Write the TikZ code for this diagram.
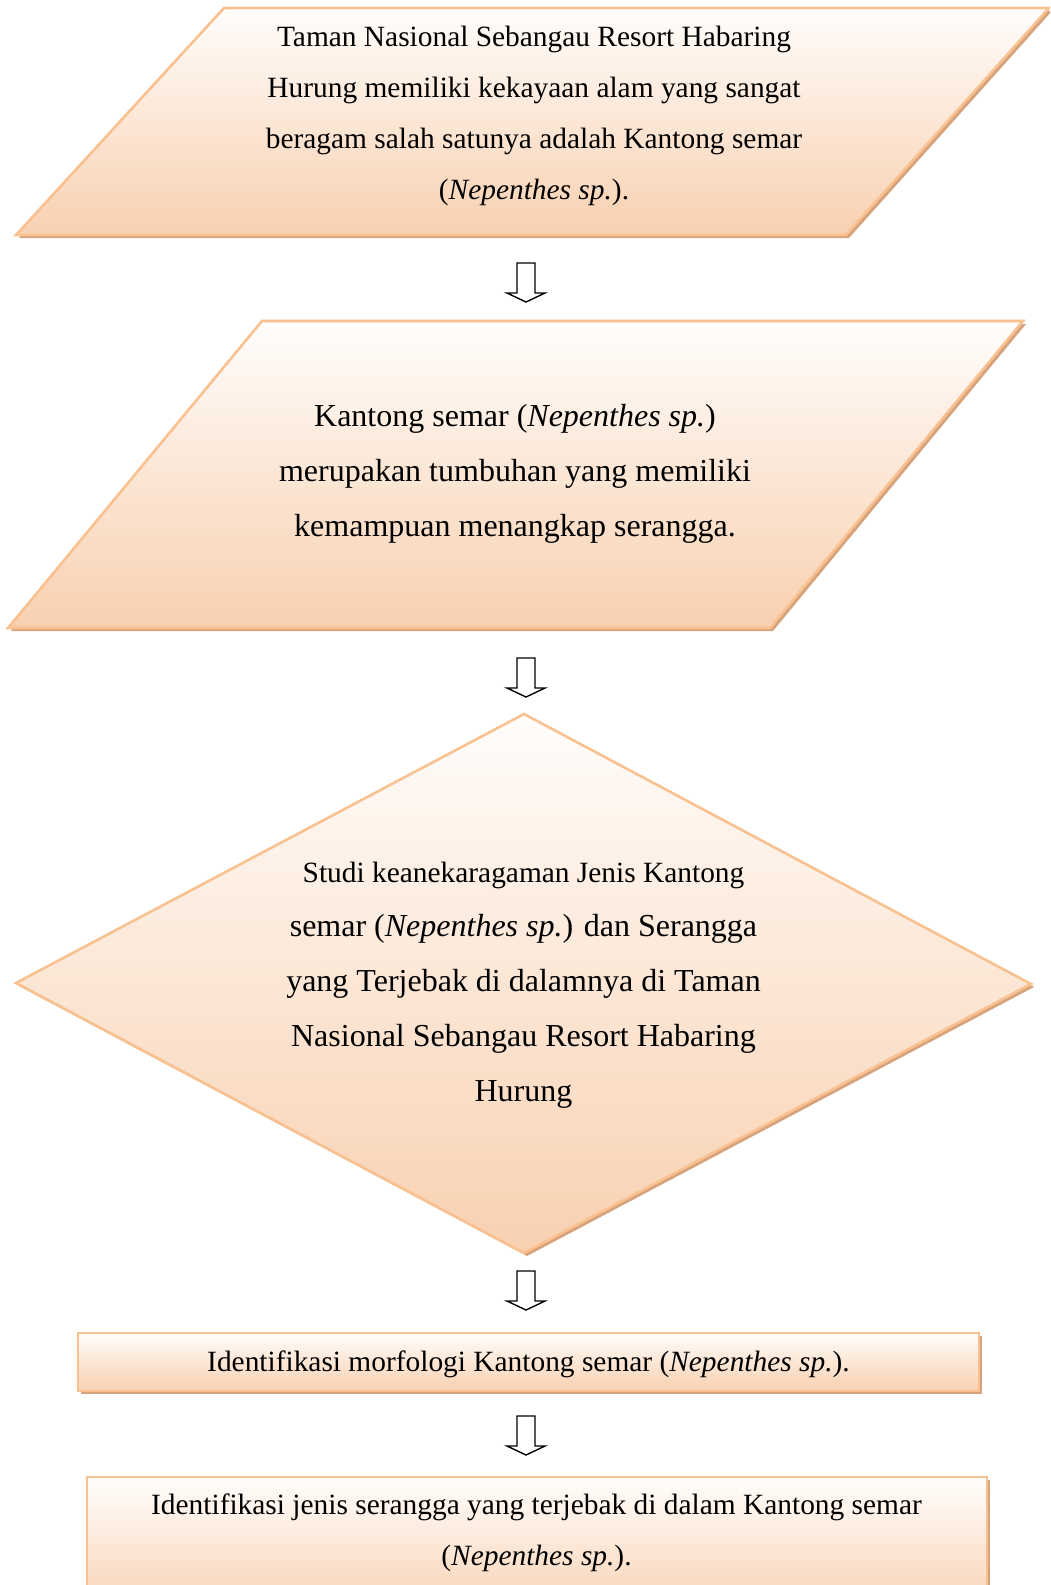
\documentclass[tikz,border=0pt]{standalone}
\usepackage{fontspec}
\setmainfont{Liberation Serif}
\definecolor{boxline}{RGB}{249,192,144}
\definecolor{boxtop}{RGB}{255,253,251}
\definecolor{boxbot}{RGB}{248,208,176}
\definecolor{boxshadow}{RGB}{214,163,124}
\begin{document}
\begin{tikzpicture}[x=0.5pt,y=-0.5pt,
  shapebox/.style={draw=boxline, line width=1.3pt, top color=boxtop, bottom color=boxbot, line join=miter},
  shadowbox/.style={fill=boxshadow, draw=none, shift={(3,3)}},
  smalltext/.style={font=\fontsize{14.7}{25.4}\selectfont, align=center, inner sep=0pt},
  bigtext/.style={font=\fontsize{16}{27.4}\selectfont, align=center, inner sep=0pt},
  blockarrow/.style={draw=black, line width=0.7pt, fill=white, line join=miter}]
\useasboundingbox (0,0) rectangle (1050,1585);
\clip (0,0) rectangle (1050,1585);
% shape 1: parallelogram
\path[shadowbox] (224,8) -- (1049,8) -- (846,235) -- (16,235) -- cycle;
\path[shapebox] (224,8) -- (1049,8) -- (846,235) -- (16,235) -- cycle;
\node[smalltext] (t1) at (534,116) {Taman Nasional Sebangau Resort Habaring\\Hurung memiliki kekayaan alam yang sangat\\beragam salah satunya adalah Kantong semar\\(\textit{Nepenthes sp.}).};
% shape 2: parallelogram
\path[shadowbox] (262,321) -- (1023,321) -- (770,628) -- (8,628) -- cycle;
\path[shapebox] (262,321) -- (1023,321) -- (770,628) -- (8,628) -- cycle;
\node[bigtext] (t2) at (515,474) {Kantong semar (\textit{Nepenthes sp.})\\merupakan tumbuhan yang memiliki\\kemampuan menangkap serangga.};
% shape 3: diamond
\path[shadowbox] (524,714) -- (1031,984) -- (524,1253) -- (16,983) -- cycle;
\path[shapebox] (524,714) -- (1031,984) -- (524,1253) -- (16,983) -- cycle;
\node[bigtext] (t3) at (523.5,985) {{\fontsize{14.7}{27.4}\selectfont Studi keanekaragaman Jenis Kantong}\\semar (\textit{Nepenthes sp.}) dan Serangga\\yang Terjebak di dalamnya di Taman\\Nasional Sebangau Resort Habaring\\Hurung};
% shape 4: rectangle
\path[shadowbox] (78,1333) rectangle (979,1391);
\path[shapebox] (78,1333) rectangle (979,1391);
\node[smalltext] (t4) at (528.5,1364) {Identifikasi morfologi Kantong semar (\textit{Nepenthes sp.}).};
% shape 5: rectangle
\path[shadowbox] (87,1477) rectangle (987,1620);
\path[shapebox] (87,1477) rectangle (987,1620);
\node[smalltext] (t5) at (536.5,1533) {Identifikasi jenis serangga yang terjebak di dalam Kantong semar\\(\textit{Nepenthes sp.}).};
% block arrows
\coordinate (a1) at (526,263);
\coordinate (a2) at (526,658);
\coordinate (a3) at (526,1271);
\coordinate (a4) at (526,1416);
\foreach \a in {a1,a2,a3,a4}{
  \draw[blockarrow] (\a) ++(-9,0) -- ++(18,0) -- ++(0,30) -- ++(10,0) -- ++(-19,9) -- ++(-19,-9) -- ++(10,0) -- cycle;
}
\end{tikzpicture}
\end{document}
